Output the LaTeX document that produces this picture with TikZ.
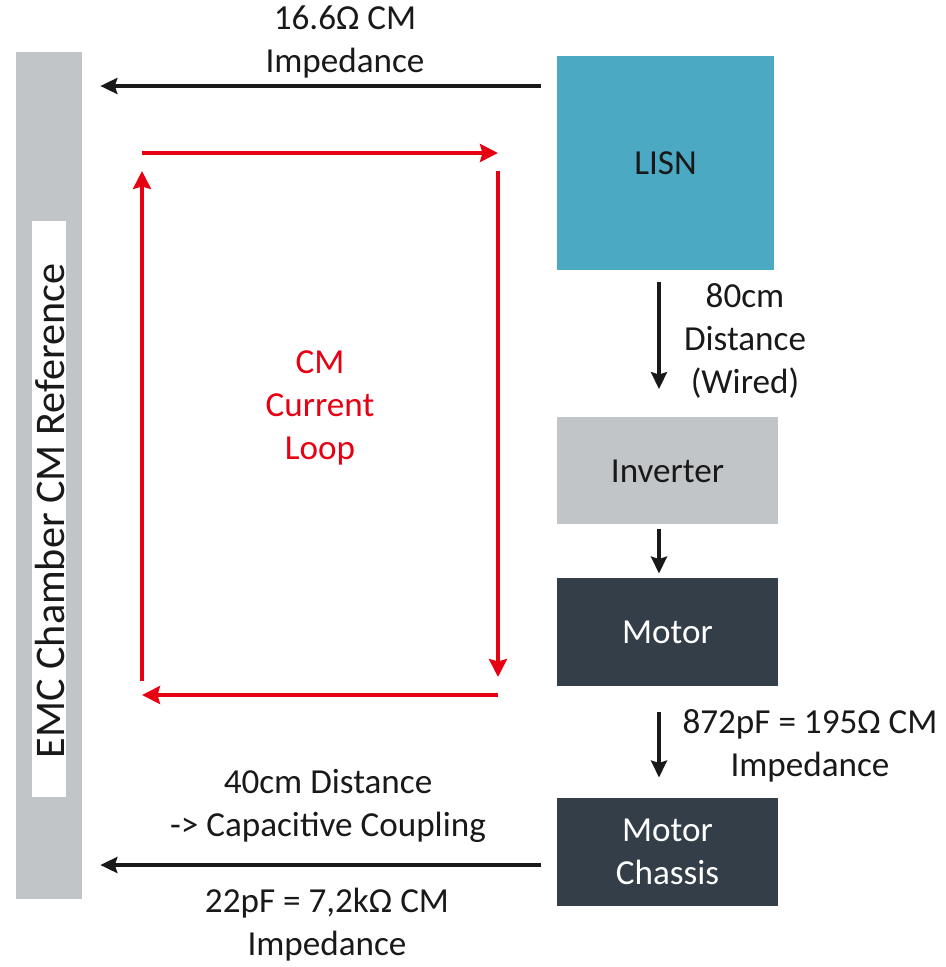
\documentclass[tikz,border=0pt]{standalone}
\usepackage{fontspec}
\setmainfont{Carlito}
\usetikzlibrary{arrows.meta,positioning}
\definecolor{lisnblue}{RGB}{75,169,196}
\definecolor{refgray}{RGB}{193,197,200}
\definecolor{motordark}{RGB}{51,62,72}
\definecolor{loopred}{RGB}{230,0,18}
\definecolor{textblack}{RGB}{25,25,25}
\tikzstyle{block} = [rectangle, minimum width=4.42cm, minimum height=2.14cm, inner sep=0pt, text centered]
\tikzstyle{lisnbox} = [block, fill=lisnblue, minimum width=4.34cm, minimum height=4.28cm, text=textblack]
\tikzstyle{graybox} = [block, fill=refgray, text=textblack]
\tikzstyle{darkbox} = [block, fill=motordark, text=white, minimum height=2.16cm, align=center]
\tikzstyle{txt} = [align=center, text=textblack, inner sep=0pt]
\tikzstyle{arrow} = [line width=2pt, textblack, -{Stealth[length=0.34cm,width=0.32cm,inset=0.05cm]}]
\tikzstyle{redarrow} = [line width=2pt, loopred, -{Stealth[length=0.36cm,width=0.36cm,inset=0.05cm]}]

\begin{document}
\begin{tikzpicture}[x=0.02cm, y=-0.02cm, node distance=3.22cm, font=\fontsize{20}{24.5}\selectfont]
	\useasboundingbox (0,0) rectangle (946,967);

	% chamber reference plane
	\node (ref) [rectangle, fill=refgray, minimum width=1.32cm, minimum height=16.94cm, inner sep=0pt] at (49,475.5) {};
	\node (reflabel) [rectangle, fill=white, minimum width=0.68cm, minimum height=11.52cm, inner sep=0pt] at (49,509) {};
	\node (reftext) [txt, rotate=90, font=\fontsize{24}{29}\selectfont] at (50,511) {EMC Chamber CM Reference};

	\node (lisn) [lisnbox] at (665.5,163) {LISN};
	\node (inv) [graybox, below of=lisn, yshift=-2.94cm, xshift=0.04cm] {Inverter};
	\node (motor) [darkbox, below of=inv] {Motor};
	\node (chassis) [darkbox, below of=motor, yshift=-1.18cm] {Motor\\Chassis};

	\coordinate (wire) at (659,0);
	\coordinate (ytop) at (0,86);
	\coordinate (ybot) at (0,865);

	\node (topimp) [txt] at (345,42) {16.6Ω CM\\Impedance};
	\node (wired) [txt] at (745,341) {80cm\\Distance\\(Wired)};
	\node (motimp) [txt] at (810,746) {872pF = 195Ω CM\\Impedance};
	\node (coupling) [txt] at (328,806) {40cm Distance\\-> Capacitive Coupling};
	\node (botimp) [txt] at (327,925) {22pF = 7,2kΩ CM\\Impedance};

	\draw [arrow, shorten <=0.32cm, shorten >=0.36cm] (lisn.west |- ytop) -- (ref.east |- ytop);
	\draw [arrow, shorten <=0.32cm, shorten >=0.36cm] (chassis.west |- ybot) -- (ref.east |- ybot);
	\draw [arrow, shorten <=0.24cm, shorten >=0.56cm] (wire |- lisn.south) -- (wire |- inv.north);
	\draw [arrow, shorten <=0.08cm, shorten >=0.08cm] (wire |- inv.south) -- (wire |- motor.north);
	\draw [arrow, shorten <=0.52cm, shorten >=0.40cm] (wire |- motor.south) -- (wire |- chassis.north);

	% CM current loop
	\node (loop) [txt, text=loopred] at (320,408) {CM\\Current\\Loop};
	\coordinate (lnw) at (142,153);
	\coordinate (lne) at (498,153);
	\coordinate (lse) at (498,695);
	\coordinate (lsw) at (142,695);
	\draw [redarrow] (lnw) -- (lne);
	\draw [redarrow, shorten <=0.36cm, shorten >=0.36cm] (lne) -- (lse);
	\draw [redarrow] (lse) -- (lsw);
	\draw [redarrow, shorten <=0.28cm, shorten >=0.36cm] (lsw) -- (lnw);
\end{tikzpicture}
\end{document}
